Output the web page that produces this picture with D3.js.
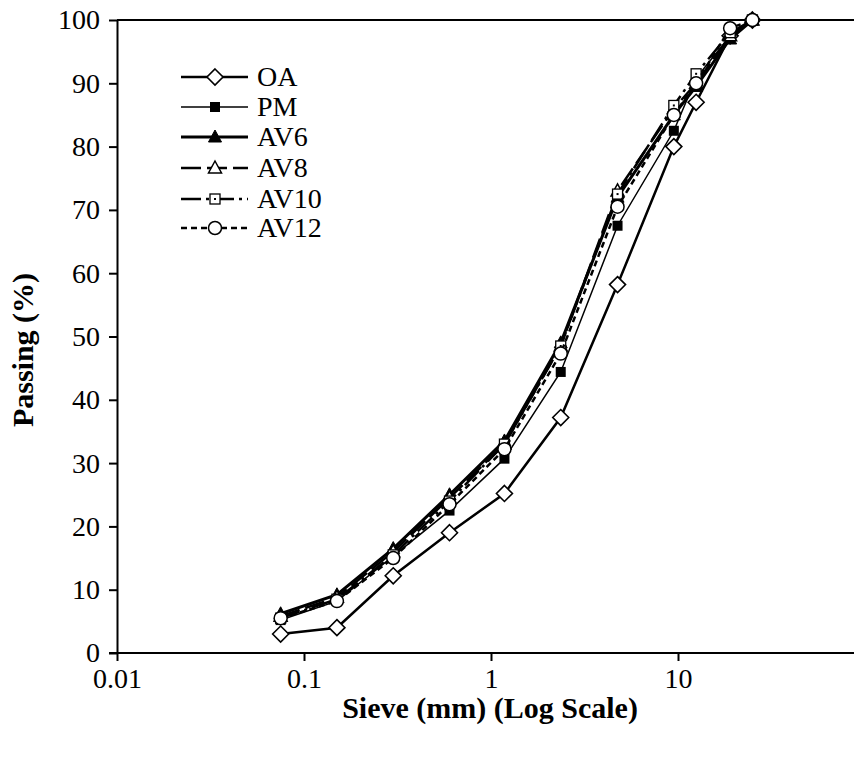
<!DOCTYPE html>
<html><head><meta charset="utf-8">
<script src="https://cdn.jsdelivr.net/npm/d3@7"></script>
<style>
html,body{margin:0;padding:0;background:#fff;}
svg{display:block;}
text{font-family:"Liberation Serif","Times New Roman",serif;fill:#000;}
</style></head>
<body><svg id="c" width="854" height="759"></svg>
<script>
const sieve = [0.075, 0.15, 0.3, 0.6, 1.18, 2.36, 4.75, 9.5, 12.5, 19, 25];
const OA   = [3.0, 4.0, 12.2, 19.0, 25.2, 37.2, 58.2, 80.0, 87.0, 97.5, 100];
const PM   = [5.2, 8.2, 15.3, 22.5, 30.7, 44.4, 67.5, 82.5, 90.8, 97.5, 100];
const AV6  = [6.2, 9.2, 16.5, 25.0, 33.5, 49.0, 72.0, 85.0, 89.5, 97.0, 100];
const AV8  = [5.8, 8.8, 16.0, 24.5, 33.0, 48.5, 73.0, 86.0, 90.0, 97.5, 100];
const AV10 = [5.5, 8.5, 15.5, 24.0, 33.0, 48.5, 72.5, 86.5, 91.5, 98.0, 100];
const AV12 = [5.5, 8.2, 15.0, 23.5, 32.2, 47.3, 70.5, 85.0, 90.0, 98.7, 100];
const seriesNames = ["OA", "PM", "AV6", "AV8", "AV10", "AV12"];
const xTicks = [0.01, 0.1, 1, 10];
const xTickLabels = ["0.01", "0.1", "1", "10"];
const yTicks = [0, 10, 20, 30, 40, 50, 60, 70, 80, 90, 100];
const xTitle = "Sieve (mm) (Log Scale)";
const yTitle = "Passing (%)";

const seriesData = {OA, PM, AV6, AV8, AV10, AV12};
const styles = {
  OA:   {w: 2.5, dash: null,          marker: "diamond"},
  PM:   {w: 1.5, dash: null,          marker: "fsquare"},
  AV6:  {w: 3.0, dash: null,          marker: "ftri"},
  AV8:  {w: 2.5, dash: "20,6",        marker: "otri"},
  AV10: {w: 2.5, dash: "20,5,3,5",    marker: "dsquare"},
  AV12: {w: 2.5, dash: "6,4",         marker: "circle"}
};

const svg = d3.select("#c");
const FS = 28;
const L = 117, T = 20, B = 653;
const x = d3.scaleLog().domain([0.01, 100]).range([L, L + 4 * 187]);
const y = d3.scaleLinear().domain([0, 100]).range([B, T]);

// top border
svg.append("line").attr("x1", L).attr("x2", 854).attr("y1", T).attr("y2", T)
  .attr("stroke", "#000").attr("stroke-width", 2);

// axes
const xAxis = d3.axisBottom(x).tickValues(xTicks)
  .tickFormat((d, i) => xTickLabels[i]).tickSize(8).tickSizeOuter(0).tickPadding(7);
const gx = svg.append("g").attr("transform", `translate(0,${B})`).call(xAxis);
gx.attr("font-family", null).attr("font-size", null);
gx.select(".domain").attr("stroke-width", 2).attr("d", `M${L - 8},0H${x(100)}`);
gx.selectAll(".tick line").attr("stroke-width", 2);
gx.selectAll(".tick text").attr("font-size", FS);

const yAxis = d3.axisLeft(y).tickValues(yTicks).tickSize(8).tickSizeOuter(0).tickPadding(9);
const gy = svg.append("g").attr("transform", `translate(${L},0)`).call(yAxis);
gy.attr("font-family", null).attr("font-size", null);
gy.select(".domain").attr("stroke-width", 2);
gy.selectAll(".tick line").attr("stroke-width", 2);
gy.selectAll(".tick text").attr("font-size", FS);

// titles
svg.append("text").attr("transform", `translate(490,718)`)
  .attr("text-anchor", "middle").attr("font-size", 30).attr("font-weight", "bold").text(xTitle);
svg.append("text").attr("transform", `translate(33,350) rotate(-90)`)
  .attr("text-anchor", "middle").attr("font-size", 30).attr("font-weight", "bold").text(yTitle);

function drawMarker(g, type, cx, cy) {
  const s = "#000";
  if (type === "diamond") {
    const r = 8;
    g.append("path").attr("d", `M${cx},${cy - r}L${cx + r},${cy}L${cx},${cy + r}L${cx - r},${cy}Z`)
      .attr("fill", "#fff").attr("stroke", s).attr("stroke-width", 1.6);
  } else if (type === "fsquare") {
    g.append("rect").attr("x", cx - 5).attr("y", cy - 5).attr("width", 10).attr("height", 10)
      .attr("fill", s);
  } else if (type === "ftri") {
    g.append("path").attr("d", `M${cx},${cy - 7}L${cx + 6.5},${cy + 5}L${cx - 6.5},${cy + 5}Z`)
      .attr("fill", s).attr("stroke", s).attr("stroke-width", 1);
  } else if (type === "otri") {
    g.append("path").attr("d", `M${cx},${cy - 7}L${cx + 6.5},${cy + 5}L${cx - 6.5},${cy + 5}Z`)
      .attr("fill", "#fff").attr("stroke", s).attr("stroke-width", 1.5);
  } else if (type === "dsquare") {
    g.append("rect").attr("x", cx - 5).attr("y", cy - 5).attr("width", 10).attr("height", 10)
      .attr("fill", "#fff").attr("stroke", s).attr("stroke-width", 1.3);
    g.append("rect").attr("x", cx - 1).attr("y", cy - 1).attr("width", 2).attr("height", 2).attr("fill", s);
  } else if (type === "circle") {
    g.append("circle").attr("cx", cx).attr("cy", cy).attr("r", 6.5)
      .attr("fill", "#fff").attr("stroke", s).attr("stroke-width", 1.5);
  }
}

const line = d3.line().x(d => x(d[0])).y(d => y(d[1]));
seriesNames.forEach(name => {
  const st = styles[name];
  const pts = sieve.map((s, i) => [s, seriesData[name][i]]);
  const g = svg.append("g");
  g.append("path").attr("d", line(pts)).attr("fill", "none").attr("stroke", "#000")
    .attr("stroke-width", st.w).attr("stroke-dasharray", st.dash);
  pts.forEach(p => drawMarker(g, st.marker, x(p[0]), y(p[1])));
});

// legend
const lg = svg.append("g");
const rowY = [77, 107, 137, 168, 199, 228];
seriesNames.forEach((name, i) => {
  const st = styles[name];
  const cy = rowY[i];
  lg.append("line").attr("x1", 181).attr("x2", 248).attr("y1", cy).attr("y2", cy)
    .attr("stroke", "#000").attr("stroke-width", st.w).attr("stroke-dasharray", st.dash);
  drawMarker(lg, st.marker, 215, cy);
  lg.append("text").attr("x", 257).attr("y", cy + 9).attr("font-size", FS).text(name);
});
</script></body></html>
